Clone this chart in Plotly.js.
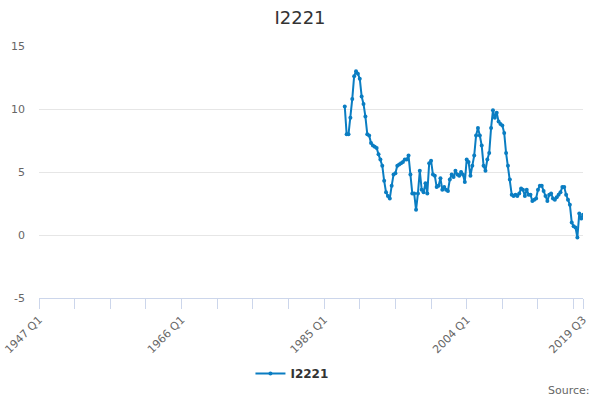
<!DOCTYPE html>
<html>
<head>
<meta charset="utf-8">
<script src="https://cdn.plot.ly/plotly-3.0.1.min.js"></script>
<style>html,body{margin:0;padding:0;background:#fff}#chart{width:600px;height:400px}</style>
</head>
<body>
<div id="chart"></div>
<script>
// Quarter categories from 1947 Q1 to 2019 Q3
const firstYear = 1947;
const lastYear = 2019;
const lastQuarter = 3;
const quarters = [];
for (let y = firstYear; y <= lastYear; y++) {
  for (let q = 1; q <= 4; q++) {
    if (y === lastYear && q > lastQuarter) break;
    quarters.push(y + " Q" + q);
  }
}
const seriesName = "I2221";
const seriesStart = "1987 Q4";
const seriesValues = [
  10.2, 8.0, 8.0, 9.3, 10.8, 12.6, 13.0, 12.8, 12.4, 11.0,
  10.4, 9.4, 8.0, 7.9, 7.3, 7.1, 7.0, 6.9, 6.4, 6.0, 5.5,
  4.3, 3.4, 3.1, 2.9, 3.9, 4.8, 4.9, 5.5, 5.6, 5.7, 5.8,
  6.0, 6.0, 6.3, 4.8, 3.3, 3.3, 2.0, 3.3, 5.1, 3.6,
  3.4, 4.1, 3.3, 5.7, 5.9, 4.8, 4.7, 3.8, 3.9, 4.5,
  3.6, 3.8, 3.6, 3.5, 4.4, 4.8, 4.6, 5.1, 4.8, 4.7, 5.0,
  4.8, 4.2, 6.0, 5.8, 4.7, 5.5, 6.3, 7.9, 8.5, 7.9,
  7.1, 5.5, 5.1, 6.0, 6.5, 8.5, 9.9, 9.3, 9.7, 9.0,
  8.8, 8.7, 8.1, 6.5, 5.5, 4.4, 3.2, 3.1, 3.2, 3.1, 3.3,
  3.7, 3.6, 3.1, 3.6, 3.2, 3.2, 2.7, 2.8, 2.9, 3.6,
  3.9, 3.9, 3.5, 3.1, 2.7, 3.2, 3.3, 2.9, 2.8, 3.0, 3.2,
  3.4, 3.8, 3.8, 3.2, 2.8, 2.4, 1.0, 0.7, 0.6, -0.2,
  1.7, 1.3, 1.6
];
const labelledTicks = ["1947 Q1", "1966 Q1", "1985 Q1", "2004 Q1", "2019 Q3"];
const yTickValues = [-5, 0, 5, 10, 15];
const yTickText = ["-5", "0", "5", "10", "15"];

const startIdx = quarters.indexOf(seriesStart);
const xs = quarters.slice(startIdx, startIdx + seriesValues.length);

// x ticks every 19 quarters plus the last category
const tickvals = [];
const ticktext = [];
for (let i = 0; i < quarters.length; i += 19) {
  tickvals.push(quarters[i]);
  ticktext.push(labelledTicks.includes(quarters[i]) ? quarters[i] : "");
}
const lastCat = quarters[quarters.length - 1];
if (tickvals[tickvals.length - 1] !== lastCat) {
  tickvals.push(lastCat);
  ticktext.push(lastCat);
}

const font = "DejaVu Sans, Verdana, sans-serif";
const trace = {
  type: "scatter",
  mode: "lines+markers",
  name: seriesName,
  x: xs,
  y: seriesValues,
  line: {color: "#0a7dc2", width: 2},
  marker: {color: "#0a7dc2", size: 4}
};
const layout = {
  width: 600, height: 400,
  margin: {l: 39, r: 17, t: 46, b: 102},
  paper_bgcolor: "#fff", plot_bgcolor: "#fff",
  font: {family: font, color: "#666"},
  title: {text: seriesName, x: 0.5, xanchor: "center", y: 0.955, yanchor: "middle",
          font: {family: font, size: 18, color: "#333"}},
  xaxis: {
    type: "category",
    categoryorder: "array", categoryarray: quarters,
    range: [0, quarters.length - 1],
    tickmode: "array", tickvals: tickvals, ticktext: ticktext,
    tickangle: -45, ticks: "outside", ticklen: 10, tickcolor: "#ccd6eb", tickwidth: 1,
    showline: true, linecolor: "#ccd6eb", linewidth: 1,
    showgrid: false, zeroline: false,
    tickfont: {family: font, size: 11, color: "#666"}
  },
  yaxis: {
    range: [-5, 15],
    tickmode: "array", tickvals: yTickValues, ticktext: yTickText,
    showgrid: true, gridcolor: "#e6e6e6", gridwidth: 1,
    zeroline: false, showline: false, ticks: "",
    tickfont: {family: font, size: 11, color: "#666"},
    ticklabelstandoff: 13
  },
  showlegend: true,
  legend: {orientation: "h", x: 0.465, xanchor: "center", y: -0.30, yanchor: "middle",
           font: {family: font, size: 12, color: "#333", weight: "bold"}},
  annotations: [{
    text: "Source:", xref: "paper", yref: "paper", x: 1.016, y: -0.369,
    xanchor: "right", yanchor: "middle", showarrow: false,
    font: {family: font, size: 11, color: "#666"}
  }]
};
Plotly.newPlot("chart", [trace], layout, {displayModeBar: false, staticPlot: true});
</script>
</body>
</html>
